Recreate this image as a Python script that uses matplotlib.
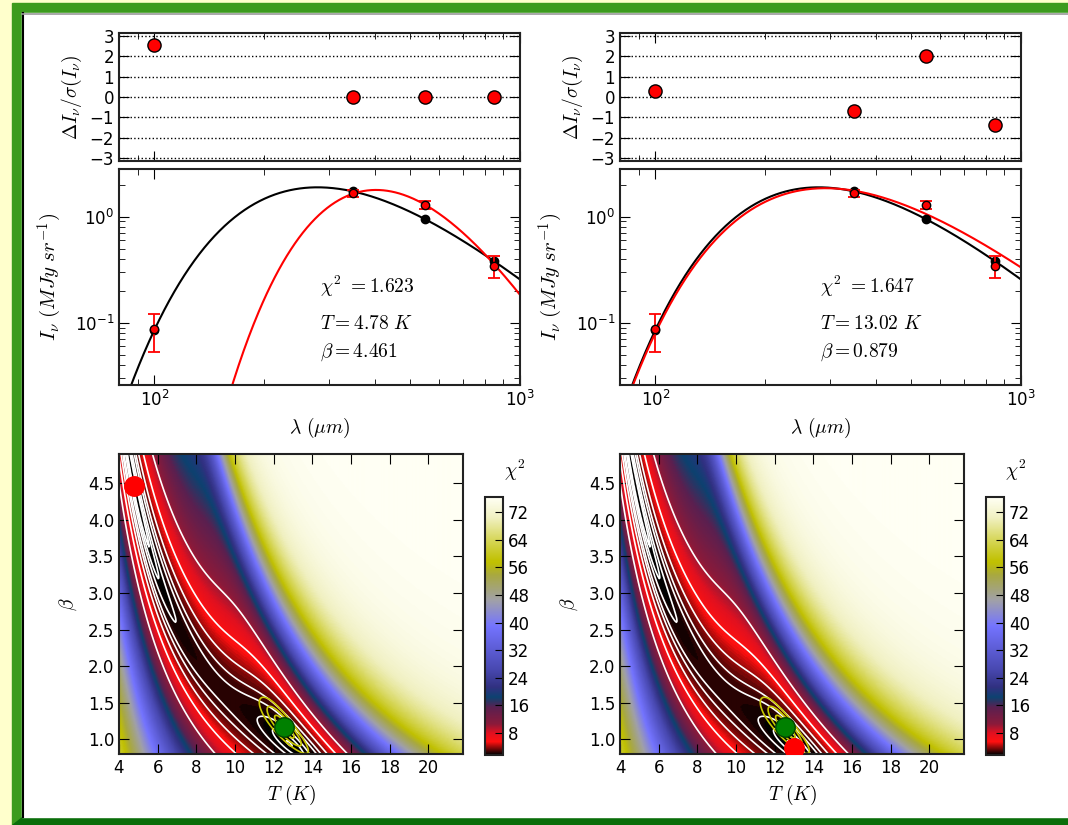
import numpy as np
import matplotlib.pyplot as plt
from matplotlib.colors import LinearSegmentedColormap
from matplotlib.patches import Rectangle, Polygon
from matplotlib.ticker import NullFormatter

plt.rcParams['font.family'] = 'DejaVu Sans'
plt.rcParams['font.size'] = 12
plt.rcParams['xtick.direction'] = 'in'
plt.rcParams['ytick.direction'] = 'in'
plt.rcParams['xtick.top'] = True
plt.rcParams['ytick.right'] = True
plt.rcParams['xtick.major.size'] = 7
plt.rcParams['ytick.major.size'] = 7
plt.rcParams['xtick.minor.size'] = 4
plt.rcParams['ytick.minor.size'] = 4
plt.rcParams['axes.linewidth'] = 1.5
plt.rcParams['axes.edgecolor'] = '#222222'

# observed SED (um, MJy/sr)
wav = np.array([100., 350., 550., 850.])
obs = np.array([0.0877, 1.66, 1.28, 0.345])
err = np.array([0.0344, 0.13, 0.115, 0.08])

# input (noise free) source
T_true = 12.56
beta_true = 1.17
I350_true = 1.72

# the two fitted solutions
fit_T = [4.78, 13.02]
fit_beta = [4.461, 0.879]
fit_chi2 = [1.623, 1.647]
resid = [[2.55, 0.0, 0.0, 0.0],
         [0.3, -0.7, 2.0, -1.4]]

# chi2 colour scale and contour levels
cb_ticks = [8, 16, 24, 32, 40, 48, 56, 64, 72]
white_levels = [1.7, 1.8, 2.0, 2.5, 3.0, 4.0, 6.0, 10.0]
yellow_levels = [0.05, 0.15, 0.3]

h_k = 0.0479924       # h/k  [K/GHz]
c_um = 2.99792458e5   # c    [GHz um]


def mbb(lam, T, beta):
    """modified black body shape, arbitrary units"""
    nu = c_um / lam
    return nu**(3 + beta) / np.expm1(h_k * nu / T)


def best_amp(data, f):
    w = 1.0 / err**2
    return np.sum(data * f * w) / np.sum(f * f * w)


def chi2_map(data, TT, BB):
    F = mbb(wav[:, None, None], TT[None], BB[None])
    d = data[:, None, None]
    s = err[:, None, None]
    A = (d * F / s**2).sum(0) / (F**2 / s**2).sum(0)
    return (((d - A * F) / s)**2).sum(0) / len(wav)


true_pts = I350_true * mbb(wav, T_true, beta_true) / mbb(350., T_true, beta_true)

T_grid = np.linspace(4.0, 21.8, 300)
b_grid = np.linspace(0.8, 4.9, 300)
TT, BB = np.meshgrid(T_grid, b_grid)
chi2 = chi2_map(obs, TT, BB)
chi2_true = chi2_map(true_pts, TT, BB)

cmap = LinearSegmentedColormap.from_list('chi2', [
    (0.00, '#000000'),
    (0.05, '#ff1010'),
    (0.085, '#e01020'),
    (0.12, '#8a1a3a'),
    (0.185, '#5a2050'),
    (0.225, '#0c4270'),
    (0.26, '#303080'),
    (0.33, '#4848b0'),
    (0.50, '#7474ff'),
    (0.60, '#a0a0a8'),
    (0.70, '#a8a840'),
    (0.75, '#c0c000'),
    (0.84, '#d8d860'),
    (0.92, '#f0f0c0'),
    (1.00, '#fffff4')])

lam = np.logspace(np.log10(80.), 3, 400)

fig = plt.figure(figsize=(10.68, 8.25), dpi=100, facecolor='#ffffcc')
W, H = 1068., 825.


def box(x0, y0, x1, y1):
    # pixel box (from top left) -> figure fraction rect
    return [x0 / W, 1 - y1 / H, (x1 - x0) / W, (y1 - y0) / H]


# green frame around the white page
fig.patches.append(Rectangle((12 / W, 0), 1, 1 - 3 / H, transform=fig.transFigure,
                             color='#3c9b1e', zorder=-3))
fig.patches.append(Polygon([(12 / W, 0), (1, 0), (1, 8 / H), (22 / W, 8 / H)],
                           transform=fig.transFigure, color='#0a6e0a', zorder=-3))
fig.patches.append(Rectangle((22 / W, 8 / H), 1, 1 - 21 / H, transform=fig.transFigure,
                             color='white', zorder=-2))
fig.lines.append(plt.Line2D([22.5 / W, 22.5 / W], [8 / H, 1 - 13 / H], transform=fig.transFigure,
                            color='black', lw=1.5))
fig.lines.append(plt.Line2D([22 / W, 1], [1 - 13.5 / H, 1 - 13.5 / H], transform=fig.transFigure,
                            color='#999999', lw=1.2))

cols = [119, 620]
for k in range(2):
    x0 = cols[k]

    # residuals
    axr = fig.add_axes(box(x0, 33, x0 + 401, 161))
    axr.set_xscale('log')
    axr.plot(wav, resid[k], 'o', color='red', mec='black', ms=9.5)
    axr.set_xlim(80, 1000)
    axr.set_ylim(-3.15, 3.15)
    axr.set_yticks(range(-3, 4))
    axr.yaxis.grid(True, linestyle=':', color='black', lw=1)
    axr.xaxis.set_major_formatter(NullFormatter())
    axr.xaxis.set_minor_formatter(NullFormatter())
    axr.set_ylabel(r'$\Delta I_\nu/\sigma(I_\nu)$', math_fontfamily='cm', fontsize=14, labelpad=4)

    # SED
    ax = fig.add_axes(box(x0, 169, x0 + 401, 385))
    ax.set_xscale('log')
    ax.set_yscale('log')
    amp = best_amp(obs, mbb(wav, fit_T[k], fit_beta[k]))
    ax.plot(lam, I350_true * mbb(lam, T_true, beta_true) / mbb(350., T_true, beta_true),
            color='black', lw=1.5)
    ax.plot(lam, amp * mbb(lam, fit_T[k], fit_beta[k]), color='red', lw=1.5)
    ax.plot(wav, true_pts, 'o', color='black', ms=6)
    ax.errorbar(wav, obs, yerr=err, fmt='o', color='red', mec='black', ms=6,
                ecolor='red', elinewidth=1.3, capsize=4, capthick=1.3)
    ax.set_xlim(80, 1000)
    ax.set_ylim(0.026, 2.8)
    ax.yaxis.set_minor_formatter(NullFormatter())
    ax.xaxis.set_minor_formatter(NullFormatter())
    ax.set_xlabel(r'$\lambda\ (\mu m)$', math_fontfamily='cm', fontsize=14)
    ax.set_ylabel(r'$I_\nu\ (MJy\ sr^{-1})$', math_fontfamily='cm', fontsize=15, labelpad=8)
    ax.text(0.50, 0.455, r'$\chi^2\ =%.3f$' % fit_chi2[k], transform=ax.transAxes,
            math_fontfamily='cm', fontsize=14, va='center')
    ax.text(0.50, 0.287, r'$T=%.2f\ K$' % fit_T[k], transform=ax.transAxes,
            math_fontfamily='cm', fontsize=14, va='center')
    ax.text(0.50, 0.153, r'$\beta=%.3f$' % fit_beta[k], transform=ax.transAxes,
            math_fontfamily='cm', fontsize=14, va='center')

    # chi2 map
    axm = fig.add_axes(box(x0, 454, x0 + 344, 754))
    im = axm.imshow(chi2, origin='lower', extent=[T_grid[0], T_grid[-1], b_grid[0], b_grid[-1]],
                    aspect='auto', cmap=cmap, interpolation='bilinear')
    axm.contour(T_grid, b_grid, chi2, levels=white_levels, colors='white', linewidths=1.2)
    axm.contour(T_grid, b_grid, chi2_true, levels=yellow_levels, colors='#c8c800', linewidths=1.2)
    axm.plot(fit_T[k], fit_beta[k], 'o', color='red', mec='red', ms=14, zorder=5)
    axm.plot(T_true, beta_true, 'o', color='green', mec='#004400', ms=14, zorder=4)
    axm.set_xlim(T_grid[0], T_grid[-1])
    axm.set_ylim(b_grid[0], b_grid[-1])
    axm.set_xticks(range(4, 21, 2))
    axm.set_yticks(np.arange(1.0, 4.6, 0.5))
    axm.set_xlabel(r'$T\ (K)$', math_fontfamily='cm', fontsize=14)
    axm.set_ylabel(r'$\beta$', math_fontfamily='cm', fontsize=14, labelpad=6)

    cax = fig.add_axes(box(x0 + 366, 497, x0 + 384, 755))
    cb = fig.colorbar(im, cax=cax, ticks=cb_ticks)
    cb.outline.set_linewidth(1.5)
    cax.tick_params(direction='in', length=6, right=True, left=False)
    cax.text(1.67, 1.105, r'$\chi^2$', transform=cax.transAxes, math_fontfamily='cm',
             fontsize=14, ha='center', va='center')

fig.savefig('out.png', dpi=100, facecolor=fig.get_facecolor())
